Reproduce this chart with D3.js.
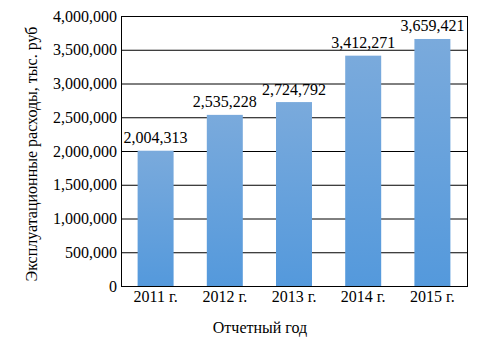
<!DOCTYPE html>
<html><head><meta charset="utf-8">
<script src="https://cdn.jsdelivr.net/npm/d3@7"></script>
<style>body{margin:0;background:#fff}svg{display:block}text{font-family:"Liberation Serif","Times New Roman",serif;fill:#000}</style>
</head><body><svg id="c" width="477" height="356"></svg>
<script>
const categories = ["2011 г.","2012 г.","2013 г.","2014 г.","2015 г."];
const values = [2004313,2535228,2724792,3412271,3659421];
const yTicks = [0,500000,1000000,1500000,2000000,2500000,3000000,3500000,4000000];
const yTitle = "Эксплуатационные расходы, тыс. руб";
const xTitle = "Отчетный год";

const svg = d3.select("#c");
const m = {l:121, r:467, t:16, b:286};
const x = d3.scaleBand().domain(categories).range([m.l, m.r]).paddingInner(0.48).paddingOuter(0.24);
const y = d3.scaleLinear().domain([0,4000000]).range([m.b, m.t]);
const fmt = d3.format(",");
const FS = 16;

const defs = svg.append("defs");
const g = defs.append("linearGradient").attr("id","bg").attr("x1",0).attr("y1",0).attr("x2",0).attr("y2",1);
g.append("stop").attr("offset","0%").attr("stop-color","#7aaadc");
g.append("stop").attr("offset","100%").attr("stop-color","#5499dc");

// gridlines
svg.append("g").selectAll("line").data(yTicks).join("line")
  .attr("x1",m.l).attr("x2",m.r).attr("y1",d=>y(d)+0.5).attr("y2",d=>y(d)+0.5)
  .attr("stroke","#000").attr("stroke-width",1);

// bars
svg.append("g").selectAll("rect").data(values).join("rect")
  .attr("x",(d,i)=>x(categories[i])).attr("width",x.bandwidth())
  .attr("y",d=>y(d)).attr("height",d=>m.b-y(d)).attr("fill","url(#bg)");

// frame
svg.append("rect").attr("x",m.l+0.5).attr("y",m.t+0.5).attr("width",m.r-m.l).attr("height",m.b-m.t)
  .attr("fill","none").attr("stroke","#000").attr("stroke-width",1);

// y axis
const ya = svg.append("g").attr("transform",`translate(${m.l},0)`)
  .call(d3.axisLeft(y).tickValues(yTicks).tickFormat(fmt).tickSize(0).tickPadding(4));
ya.select(".domain").remove();
ya.selectAll("text").attr("font-size",FS).style("font-family","Liberation Serif");

// x axis
const xa = svg.append("g").attr("transform",`translate(0,${m.b})`)
  .call(d3.axisBottom(x).tickSize(0).tickPadding(5));
xa.select(".domain").remove();
xa.selectAll("text").attr("font-size",FS).style("font-family","Liberation Serif");

// data labels
svg.append("g").selectAll("text").data(values).join("text")
  .attr("x",(d,i)=>x(categories[i])+x.bandwidth()/2).attr("y",d=>y(d)-7.5)
  .attr("text-anchor","middle").attr("font-size",FS).text(d=>fmt(d));

// titles
svg.append("text").attr("transform",`translate(37,${(m.t+m.b)/2+3}) rotate(-90)`)
  .attr("text-anchor","middle").attr("font-size",FS).text(yTitle);
svg.append("text").attr("x",(m.l+m.r)/2-34).attr("y",333).attr("text-anchor","middle")
  .attr("font-size",FS).text(xTitle);
</script></body></html>
